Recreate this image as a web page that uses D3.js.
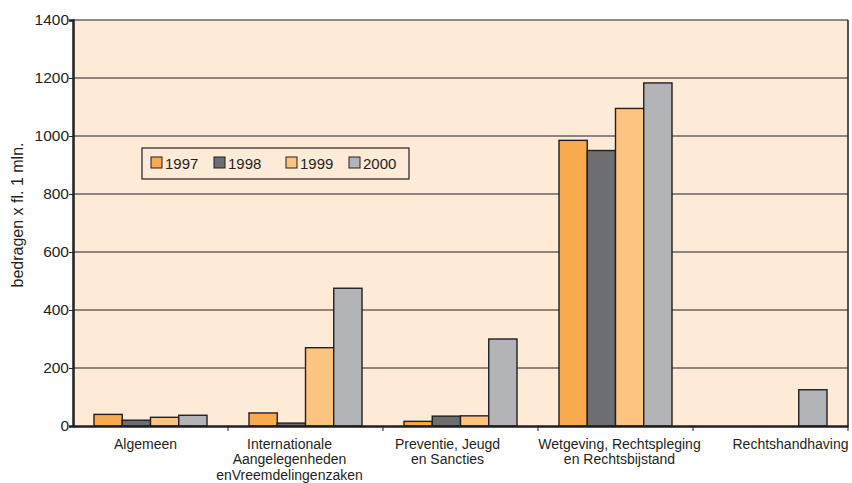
<!DOCTYPE html>
<html><head><meta charset="utf-8">
<script src="https://cdn.jsdelivr.net/npm/d3@7/dist/d3.min.js"></script>
<style>body{margin:0;background:#fff}text{font-family:"Liberation Sans",Arial,sans-serif}</style>
</head><body>
<svg id="c" width="852" height="483"></svg>
<script>
const categories = [
  ["Algemeen"],
  ["Internationale","Aangelegenheden","enVreemdelingenzaken"],
  ["Preventie, Jeugd","en Sancties"],
  ["Wetgeving, Rechtspleging","en Rechtsbijstand"],
  ["Rechtshandhaving"]
];
const years = ["1997","1998","1999","2000"];
const v1997 = [40, 45, 16, 985, 0];
const v1998 = [20, 10, 34, 950, 0];
const v1999 = [30, 270, 35, 1095, 0];
const v2000 = [37, 475, 300, 1183, 125];
const yTicks = [0,200,400,600,800,1000,1200,1400];
const colors = ["#F9AA4C","#6D6E71","#FDC47F","#B3B4B8"];
const series = [v1997, v1998, v1999, v2000];
// layout: horizontal nudges of category labels (as in the original layout)
const labelNudge = [-5, -16, -13, 4, 20];

const svg = d3.select("#c");
const m = {l:73, r:848, t:20, b:426};
const x = d3.scaleBand().domain(d3.range(categories.length)).range([m.l, m.r]).paddingInner(0).paddingOuter(0);
const x1 = d3.scaleBand().domain(years).range([21, x.bandwidth()-21]).padding(0);
const y = d3.scaleLinear().domain([0,1400]).range([m.b, m.t]);

svg.append("rect").attr("x",m.l).attr("y",m.t).attr("width",m.r-m.l).attr("height",m.b-m.t).attr("fill","#FDEBD7");

// gridlines
svg.append("g").selectAll("line").data(yTicks.filter(d=>d>0)).join("line")
  .attr("x1",m.l).attr("x2",m.r).attr("y1",d=>y(d)).attr("y2",d=>y(d))
  .attr("stroke","#231f20").attr("stroke-width",1.2);

// bars
series.forEach((s,i)=>{
  svg.append("g").selectAll("rect").data(s.map((v,j)=>({v,j})).filter(d=>d.v>0)).join("rect")
    .attr("x",d=>x(d.j)+x1(years[i]))
    .attr("y",d=>y(d.v))
    .attr("width",x1.bandwidth())
    .attr("height",d=>y(0)-y(d.v))
    .attr("fill",colors[i]).attr("stroke","#231f20").attr("stroke-width",1.4);
});

// right frame
svg.append("line").attr("x1",m.r).attr("x2",m.r).attr("y1",m.t).attr("y2",m.b).attr("stroke","#231f20").attr("stroke-width",1.5);

// y axis
const ya = svg.append("g").attr("transform",`translate(${m.l},0)`)
  .call(d3.axisLeft(y).tickValues(yTicks).tickSize(4).tickFormat(d3.format("d")));
ya.select(".domain").attr("stroke","#231f20").attr("stroke-width",2.5);
ya.selectAll(".tick line").attr("stroke","#231f20");
ya.selectAll("text").attr("font-size",15.5).attr("fill","#231f20").attr("x",-4).attr("font-family","Liberation Sans, Arial, sans-serif");

// x axis
const xa = svg.append("g").attr("transform",`translate(0,${m.b})`)
  .call(d3.axisBottom(x).tickValues(d3.range(categories.length+1)).tickSize(0).tickFormat(""));
xa.select(".domain").attr("stroke","#231f20").attr("stroke-width",2.5);
xa.selectAll(".tick").remove();
const tickPos = d3.range(1, categories.length+1).map(i=>m.l + i*x.bandwidth());
svg.append("g").selectAll("line").data(tickPos).join("line")
  .attr("x1",d=>d).attr("x2",d=>d).attr("y1",m.b).attr("y2",m.b+5).attr("stroke","#231f20").attr("stroke-width",1);

const lab = svg.append("g").selectAll("text").data(categories).join("text")
  .attr("x",(d,i)=>x(i)+x.bandwidth()/2+labelNudge[i]).attr("y",448.5)
  .attr("text-anchor","middle").attr("font-size",14).attr("fill","#231f20");
lab.selectAll("tspan").data(d=>d).join("tspan")
  .attr("x",function(){return this.parentNode.getAttribute("x");})
  .attr("dy",(d,i)=>i===0?0:15.5).text(d=>d);

// y label
svg.append("text").attr("transform","translate(23,215) rotate(-90)")
  .attr("text-anchor","middle").attr("font-size",16).attr("fill","#231f20").text("bedragen x fl. 1 mln.");

// legend
const lg = svg.append("g");
lg.append("rect").attr("x",142).attr("y",148).attr("width",267).attr("height",31)
  .attr("fill","#FDEBD7").attr("stroke","#231f20").attr("stroke-width",1.2);
const lx = [151, 214, 286, 349];
years.forEach((yr,i)=>{
  lg.append("rect").attr("x",lx[i]).attr("y",157).attr("width",11).attr("height",11)
    .attr("fill",colors[i]).attr("stroke","#231f20").attr("stroke-width",1);
  lg.append("text").attr("x",lx[i]+14).attr("y",169).attr("font-size",15).attr("fill","#231f20").text(yr);
});
</script>
</body></html>
